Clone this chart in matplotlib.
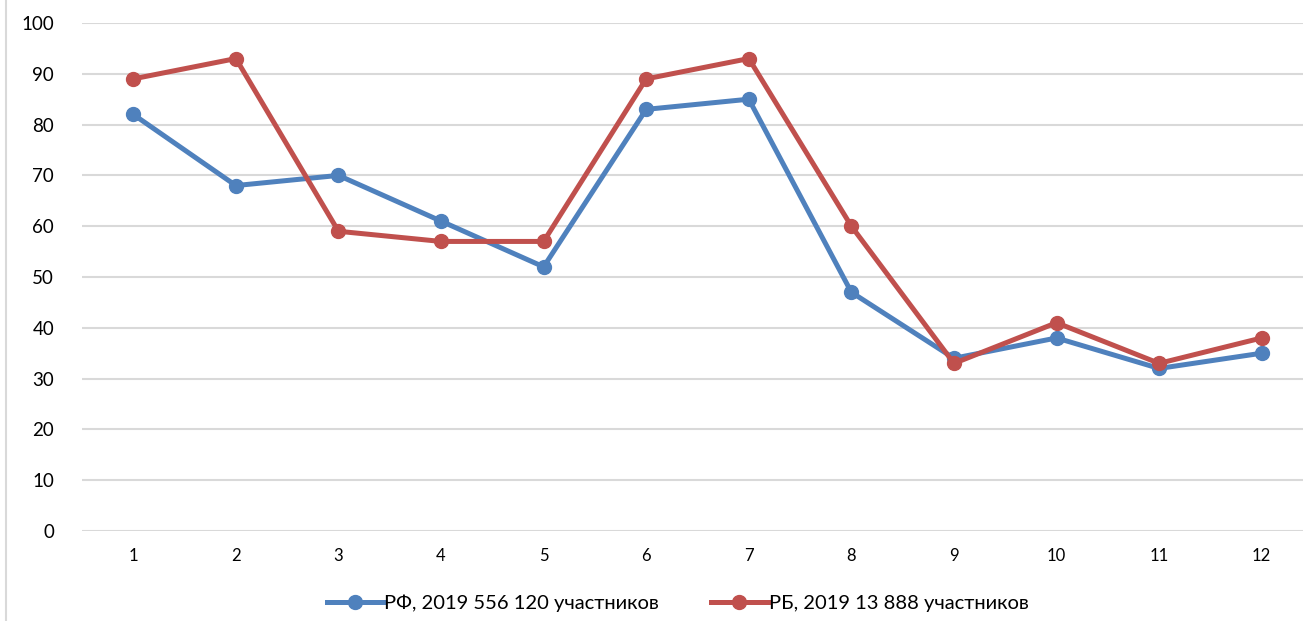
import numpy as np
import matplotlib.pyplot as plt
from matplotlib.lines import Line2D

# данные
x = list(range(1, 13))
rf = [82, 68, 70, 61, 52, 83, 85, 47, 34, 38, 32, 35]
rb = [89, 93, 59, 57, 57, 89, 93, 60, 33, 41, 33, 38]
labels = ['РФ, 2019 556 120 участников', 'РБ, 2019 13 888 участников']

plt.rcParams['font.family'] = ['Lato', 'DejaVu Sans']

fig = plt.figure(figsize=(13.03, 6.21), dpi=100)
ax = fig.add_axes([82 / 1303, 1 - 531 / 621, (1313 - 82) / 1303, (531 - 23) / 621])

ax.plot(x, rf, color='#4F81BD', lw=3.6, marker='o', ms=10, label=labels[0], zorder=3)
ax.plot(x, rb, color='#C0504D', lw=3.6, marker='o', ms=10, label=labels[1], zorder=4)

ax.set_xlim(0.5, 12.5)
ax.set_ylim(0, 100)
ax.set_yticks(range(0, 101, 10))
ax.set_xticks(x)
ax.tick_params(axis='y', length=0, pad=20, labelsize=13.5)
ax.tick_params(axis='x', length=0, pad=12, labelsize=12)
ax.grid(axis='y', color='#D9D9D9', lw=1.5)
ax.set_axisbelow(True)
for s in ax.spines.values():
    s.set_visible(False)

fig.legend(loc='lower center', bbox_to_anchor=(0.52, -0.014), ncol=2, frameon=False,
           fontsize=14.5, handlelength=2.8, columnspacing=2.6, handletextpad=0.05)

# рамка слева
fig.add_artist(Line2D([6 / 1303, 6 / 1303], [0, 1], color='#D9D9D9', lw=1.5))

fig.savefig('out.png', dpi=100)
